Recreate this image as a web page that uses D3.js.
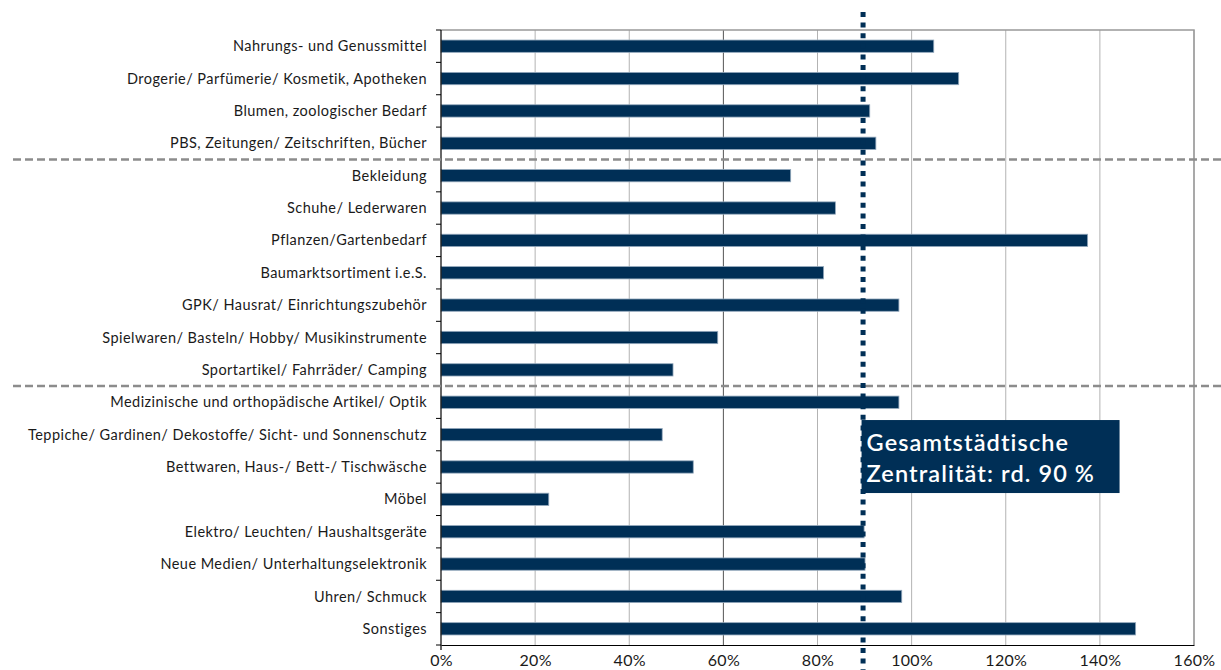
<!DOCTYPE html>
<html>
<head>
<meta charset="utf-8">
<script src="https://cdn.jsdelivr.net/npm/d3@7"></script>
<style>
  body { margin: 0; background: #fff; }
  svg { display: block; font-family: Lato, "Open Sans", sans-serif; }
</style>
</head>
<body>
<div id="chart"></div>
<script>
// Sortimente und Zentralität (in %)
var categories = [
  "Nahrungs- und Genussmittel",
  "Drogerie/ Parfümerie/ Kosmetik, Apotheken",
  "Blumen, zoologischer Bedarf",
  "PBS, Zeitungen/ Zeitschriften, Bücher",
  "Bekleidung",
  "Schuhe/ Lederwaren",
  "Pflanzen/Gartenbedarf",
  "Baumarktsortiment i.e.S.",
  "GPK/ Hausrat/ Einrichtungszubehör",
  "Spielwaren/ Basteln/ Hobby/ Musikinstrumente",
  "Sportartikel/ Fahrräder/ Camping",
  "Medizinische und orthopädische Artikel/ Optik",
  "Teppiche/ Gardinen/ Dekostoffe/ Sicht- und Sonnenschutz",
  "Bettwaren, Haus-/ Bett-/ Tischwäsche",
  "Möbel",
  "Elektro/ Leuchten/ Haushaltsgeräte",
  "Neue Medien/ Unterhaltungselektronik",
  "Uhren/ Schmuck",
  "Sonstiges"
];
var centrality = [104.7, 110.0, 91.1, 92.4, 74.3, 83.8, 137.4, 81.3, 97.3, 58.8, 49.3,
                  97.3, 47.0, 53.6, 22.9, 89.9, 90.1, 97.9, 147.6];
// Gruppen-Trennlinien nach diesen Kategorien
var groupBreaks = ["PBS, Zeitungen/ Zeitschriften, Bücher", "Sportartikel/ Fahrräder/ Camping"];
var xTicks = [0, 20, 40, 60, 80, 100, 120, 140, 160];
var overall = 90;
var noteLines = ["Gesamtstädtische", "Zentralität: rd. 90 %"];

var width = 1221, height = 670;
var margin = {top: 30, right: 27, bottom: 25, left: 441};

var svg = d3.select("#chart").append("svg")
    .attr("width", width)
    .attr("height", height);

var x = d3.scaleLinear()
    .domain([0, 160])
    .range([margin.left, width - margin.right]);

var y = d3.scaleBand()
    .domain(categories)
    .range([margin.top, height - margin.bottom]);

var navy = "#002f56";

// vertical gridlines
svg.append("g")
  .selectAll("line")
  .data(xTicks.slice(1))
  .enter().append("line")
    .attr("x1", function(d) { return x(d); })
    .attr("x2", function(d) { return x(d); })
    .attr("y1", margin.top)
    .attr("y2", height - margin.bottom)
    .attr("stroke", function(d) { return d === 60 ? "#555" : "#b3b3b3"; })
    .attr("stroke-width", 1);

// top and right frame
svg.append("path")
    .attr("d", "M" + x(0) + "," + margin.top + "H" + x(160) + "V" + (height - margin.bottom))
    .attr("fill", "none")
    .attr("stroke", "#999")
    .attr("stroke-width", 1.5);

// bars
svg.append("g")
  .selectAll("rect")
  .data(categories)
  .enter().append("rect")
    .attr("x", x(0))
    .attr("y", function(d) { return y(d) + y.bandwidth() * 0.31; })
    .attr("width", function(d, i) { return x(centrality[i]) - x(0); })
    .attr("height", y.bandwidth() * 0.38)
    .attr("fill", navy)
    .attr("stroke", "#93a8bc")
    .attr("stroke-width", 0.8);

// y axis
var yAxis = svg.append("g")
    .attr("transform", "translate(" + x(0) + ",0)");
yAxis.append("line")
    .attr("x1", 0).attr("x2", 0)
    .attr("y1", margin.top).attr("y2", height - margin.bottom + 5)
    .attr("stroke", "#000").attr("stroke-width", 1.2);
yAxis.selectAll(".tk")
  .data(categories.concat(["_end"]))
  .enter().append("line")
    .attr("x1", -5).attr("x2", 0)
    .attr("y1", function(d, i) { return i < categories.length ? y(d) : y.range()[1]; })
    .attr("y2", function(d, i) { return i < categories.length ? y(d) : y.range()[1]; })
    .attr("stroke", "#000");
yAxis.selectAll("text")
  .data(categories)
  .enter().append("text")
    .attr("x", -14)
    .attr("y", function(d) { return y(d) + y.bandwidth() / 2; })
    .attr("dy", "0.35em")
    .attr("text-anchor", "end")
    .attr("font-size", "14.5px")
    .attr("letter-spacing", "0.45px")
    .attr("fill", "#1a1a1a")
    .text(function(d) { return d; });

// x axis
var xAxis = svg.append("g")
    .attr("transform", "translate(0," + (height - margin.bottom) + ")")
    .call(d3.axisBottom(x).tickValues(xTicks).tickSize(0).tickPadding(0)
      .tickFormat(function(d) { return d + "%"; }));
xAxis.select(".domain").attr("stroke", "#000").attr("stroke-width", 1.2);
xAxis.selectAll("text")
    .attr("dy", null)
    .attr("y", 21)
    .attr("font-family", "Lato, sans-serif")
    .attr("font-size", "16px")
    .attr("letter-spacing", "0.3px")
    .attr("fill", "#1a1a1a");

// group separators
svg.append("g")
  .selectAll("line")
  .data(groupBreaks)
  .enter().append("line")
    .attr("x1", 13)
    .attr("x2", width)
    .attr("y1", function(d) { return y(d) + y.bandwidth(); })
    .attr("y2", function(d) { return y(d) + y.bandwidth(); })
    .attr("stroke", "#8c8c8c")
    .attr("stroke-width", 2.5)
    .attr("stroke-dasharray", "8,4");

// annotation box
var boxTop = y(categories[12]) + y.bandwidth() * 0.05;
var note = svg.append("g");
note.append("rect")
    .attr("x", x(overall) - 3)
    .attr("y", boxTop)
    .attr("width", 258)
    .attr("height", 73)
    .attr("fill", navy);
note.selectAll("text")
  .data(noteLines)
  .enter().append("text")
    .attr("x", x(overall) + 2)
    .attr("y", function(d, i) { return boxTop + 31 + i * 30.5; })
    .attr("fill", "#fff")
    .attr("font-size", "23.5px")
    .attr("font-weight", 600)
    .attr("letter-spacing", "1.1px")
    .text(function(d) { return d; });

// overall centrality line
svg.append("line")
    .attr("x1", x(overall) - 1.5)
    .attr("x2", x(overall) - 1.5)
    .attr("y1", 12)
    .attr("y2", height)
    .attr("stroke", navy)
    .attr("stroke-width", 5)
    .attr("stroke-dasharray", "5,5.6");
</script>
</body>
</html>
